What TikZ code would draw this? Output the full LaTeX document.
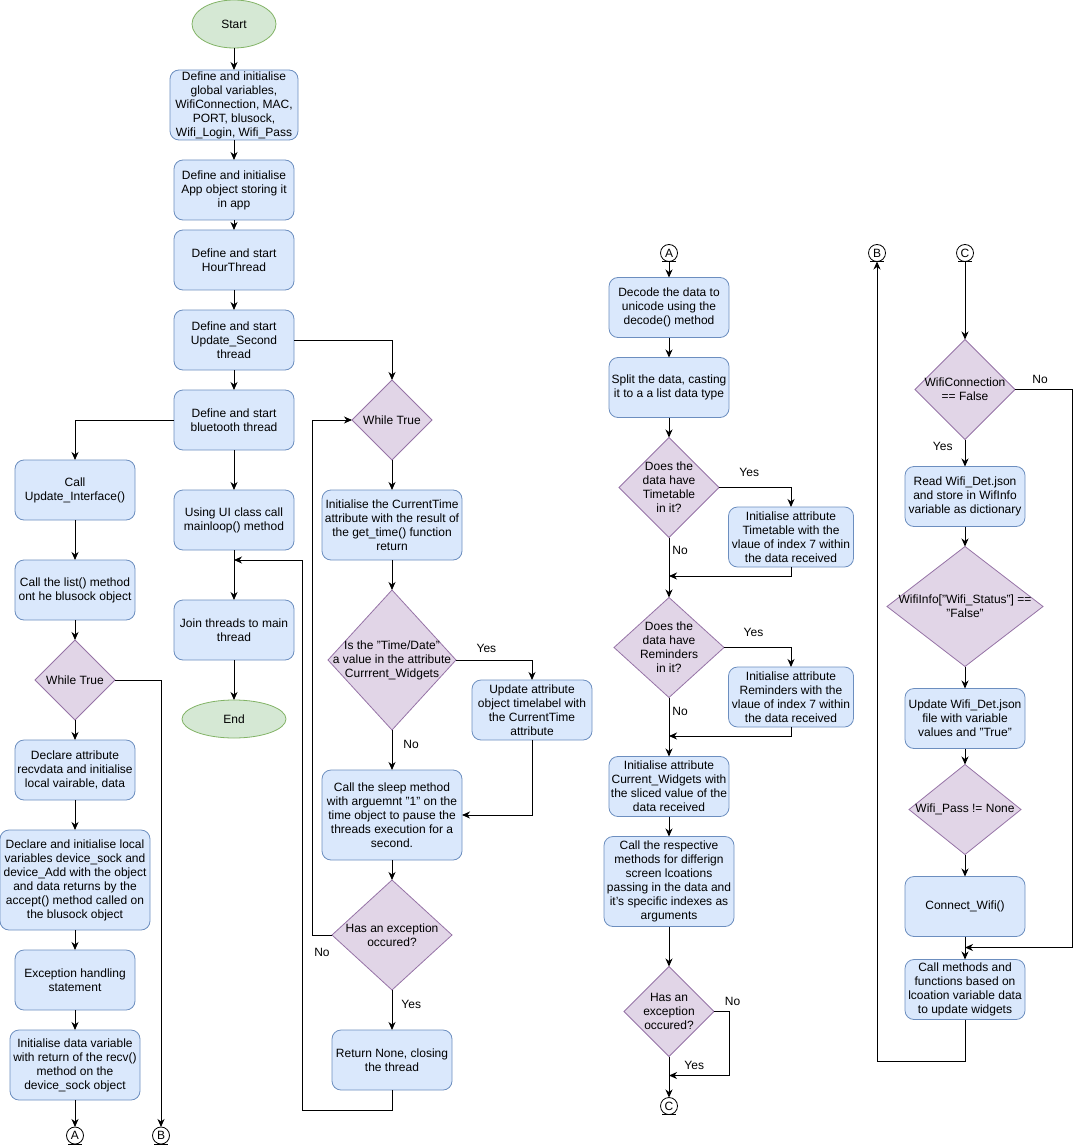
\documentclass[tikz,border=0pt]{standalone}
\usepackage{fontspec}
\setmainfont{Liberation Sans}
\usepackage{tikz}
\usetikzlibrary{arrows.meta, shapes.geometric, positioning}
\definecolor{procfill}{HTML}{DAE8FC}
\definecolor{procline}{HTML}{6C8EBF}
\definecolor{decfill}{HTML}{E1D5E7}
\definecolor{decline}{HTML}{9673A6}
\definecolor{termfill}{HTML}{D5E8D4}
\definecolor{termline}{HTML}{82B366}
\newcommand{\flowfont}{\fontsize{12pt}{14pt}\selectfont}

\begin{document}
\begin{tikzpicture}[
  x=1pt, y=-1pt,
  node distance=20pt,
  process/.style={rectangle, rounded corners=9pt, draw=procline, fill=procfill,
                  align=center, font=\flowfont, minimum width=120pt,
                  minimum height=60pt, inner xsep=2pt, inner ysep=0pt,
                  outer sep=0pt, line width=0.8pt},
  decision/.style 2 args={diamond, draw=decline, fill=decfill, inner sep=0pt,
                  outer sep=0pt, minimum width=#1, minimum height=#2, line width=0.8pt},
  dtext/.style={align=center, font=\flowfont, inner sep=0pt},
  terminal/.style={ellipse, draw=termline, fill=termfill, font=\flowfont,
                   outer sep=0pt, line width=0.8pt},
  offpage/.style={circle, draw, fill=white, inner sep=0pt, minimum size=17pt,
                  outer sep=0pt, font=\flowfont, line width=0.8pt},
  lbl/.style={font=\flowfont, inner sep=1pt},
  arrow/.style={-{Stealth[length=8pt, width=7pt, inset=2.5pt]}, line width=0.9pt},
]
\useasboundingbox (0,0) rectangle (1082,1147);

\node[terminal, minimum width=84pt, minimum height=48pt] (start) at (234,24) {Start};
\node[process, minimum width=128pt, minimum height=70pt, below=22pt of start] (glob)
  {Define and initialise\\global variables,\\WifiConnection, MAC,\\PORT, blusock,\\Wifi\_Login, Wifi\_Pass};
\node[process, below=20pt of glob] (app) {Define and initialise\\App object storing it\\in app};
\node[process, below=10pt of app] (hour) {Define and start\\HourThread};
\node[process, below=20pt of hour] (second) {Define and start\\Update\_Second\\thread};
\node[process, below=20pt of second] (blue) {Define and start\\bluetooth thread};
\node[process, below=40pt of blue] (mloop) {Using UI class call\\mainloop() method};
\node[process, below=50pt of mloop] (join) {Join threads to main\\thread};
\node[terminal, minimum width=104pt, minimum height=38pt, below=40pt of join] (end) {End};

\node[process] (upd) at (75,490) {Call\\Update\_Interface()};
\node[process, below=40pt of upd] (list) {Call the list() method\\ont he blusock object};
\node[decision={80pt}{80pt}, below=20pt of list,
      label={[dtext]center:While True}] (loop1) {};
\node[process, below=20pt of loop1] (recv) {Declare attribute\\recvdata and initialise\\local vairable, data};
\node[process, minimum width=150pt, minimum height=100pt, below=30pt of recv] (sock)
  {Declare and initialise local\\variables device\_sock and\\device\_Add with the object\\and data returns by the\\accept() method called on\\the blusock object};
\node[process, below=20pt of sock] (exch) {Exception handling\\statement};
\node[process, minimum width=130pt, minimum height=70pt, below=20pt of exch] (rdata)
  {Initialise data variable\\with return of the recv()\\method on the\\device\_sock object};
\node[offpage, below=27pt of rdata] (A1) {A};
\node[offpage, right=69pt of A1] (B1) {B};

\node[decision={80pt}{80pt}, label={[dtext]center:While True}] (loop2) at (392,420) {};
\node[process, minimum width=140pt, minimum height=70pt, below=30pt of loop2] (ctime)
  {Initialise the CurrentTime\\attribute with the result of\\the get\_time() function\\return};
\node[decision={128pt}{140pt}, below=30pt of ctime,
      label={[dtext]center:{Is the "Time/Date"\\a value in the attribute\\Currrent\_Widgets}}] (tdate) {};
\node[process, minimum width=140pt, minimum height=90pt, below=40pt of tdate] (sleep)
  {Call the sleep method\\with arguemnt "1" on the\\time object to pause the\\threads execution for a\\second.};
\node[decision={120pt}{110pt}, below=20pt of sleep,
      label={[dtext]center:{Has an exception\\occured?}}] (exc2) {};
\node[process, below=40pt of exc2] (ret) {Return None, closing\\the thread};
\node[process] (tlabel) at (532,710) {Update attribute\\object timelabel with\\the CurrentTime\\attribute};

\node[offpage] (A2) at (669,253) {A};
\node[process, below=16pt of A2] (decode) {Decode the data to\\unicode using the\\decode() method};
\node[process, below=20pt of decode] (split) {Split the data, casting\\it to a a list data type};
\node[decision={100pt}{100pt}, below=20pt of split,
      label={[dtext]center:{Does the\\data have\\Timetable\\in it?}}] (ttab) {};
\node[decision={110pt}{100pt}, below=60pt of ttab,
      label={[dtext]center:{Does the\\data have\\Reminders\\in it?}}] (remd) {};
\node[process, below=59pt of remd] (cwid) {Initialise attribute\\Current\_Widgets with\\the sliced value of the\\data received};
\node[process, minimum width=130pt, minimum height=90pt, below=20pt of cwid] (resp)
  {Call the respective\\methods for differign\\screen lcoations\\passing in the data and\\it's specific indexes as\\arguments};
\node[decision={90pt}{90pt}, below=40pt of resp,
      label={[dtext]center:{Has an\\exception\\occured?}}] (exc3) {};
\node[offpage, below=41pt of exc3] (C1) {C};
\node[process, minimum width=125pt] (ttset) at (791,537)
  {Initialise attribute\\Timetable with the\\vlaue of index 7 within\\the data received};
\node[process, minimum width=125pt] (remset) at (791,697)
  {Initialise attribute\\Reminders with the\\vlaue of index 7 within\\the data received};

\node[offpage] (B2) at (877,253) {B};
\node[offpage, right=71pt of B2] (C2) {C};
\node[decision={100pt}{100pt}, below=78pt of C2,
      label={[dtext]center:{WifiConnection\\== False}}] (wcon) {};
\node[process, below=27pt of wcon] (readw) {Read Wifi\_Det.json\\and store in WifInfo\\variable as dictionary};
\node[decision={156pt}{120pt}, below=20pt of readw,
      label={[dtext]center:{WifiInfo["Wifi\_Status"] ==\\"False"}}] (wstat) {};
\node[process, below=22pt of wstat] (updw) {Update Wifi\_Det.json\\file with variable\\values and "True"};
\node[decision={112pt}{90pt}, below=16pt of updw,
      label={[dtext]center:{Wifi\_Pass != None}}] (wpass) {};
\node[process, below=22pt of wpass] (connw) {Connect\_Wifi()};
\node[process, below=23pt of connw] (callw) {Call methods and\\functions based on\\lcoation variable data\\to update widgets};

\foreach \c in {A1,B1,A2,C1,B2,C2}
  \draw[line width=0.8pt] ([xshift=-7pt]\c.south) -- ([xshift=7pt]\c.south);

\coordinate[below=10pt of mloop] (jn);
\coordinate[below=9pt of ttset] (m1);
\coordinate[below=9pt of remset] (m2);
\coordinate[below=19pt of exc3] (m3);
\coordinate[below=11pt of connw] (m4);

\draw[arrow] (start) -- (glob);
\draw[arrow] (glob) -- (app);
\draw[arrow] (app) -- (hour);
\draw[arrow] (hour) -- (second);
\draw[arrow] (second) -- (blue);
\draw[arrow] (blue) -- (mloop);
\draw[arrow] (mloop) -- (join);
\draw[arrow] (join) -- (end);
\draw[arrow] (blue.west) -| (upd.north);
\draw[arrow] (second.east) -| (loop2.north);

\draw[arrow] (upd) -- (list);
\draw[arrow] (list) -- (loop1);
\draw[arrow] (loop1) -- (recv);
\draw[arrow] (recv) -- (sock);
\draw[arrow] (sock) -- (exch);
\draw[arrow] (exch) -- (rdata);
\draw[arrow] (rdata) -- (A1);
\draw[arrow] (loop1.east) -| (B1.north);

\draw[arrow] (loop2) -- (ctime);
\draw[arrow] (ctime) -- (tdate);
\draw[arrow] (tdate) -- node[lbl, pos=0.35, right=10pt] {No} (sleep);
\draw[arrow] (tdate.east) -| node[lbl, pos=0.2, above=6pt] {Yes} (tlabel.north);
\draw[arrow] (tlabel.south) |- (sleep.east);
\draw[arrow] (sleep) -- (exc2);
\draw[arrow] (exc2) -- node[lbl, pos=0.35, right=8pt] {Yes} (ret);
\draw[arrow] (exc2.west) -- node[lbl, below=12pt] {No} ++(-20,0) |- (loop2.west);
\draw[arrow] (ret.south) -- ++(0,20) -- ++(-90,0) |- (jn);

\draw[arrow] (A2) -- (decode);
\draw[arrow] (decode) -- (split);
\draw[arrow] (split) -- (ttab);
\draw[arrow] (ttab.east) -| node[lbl, pos=0.21, above=9pt] {Yes} (ttset.north);
\draw[arrow] (ttab) -- node[lbl, pos=0.22, right=2pt] {No} (remd);
\draw[arrow] (ttset.south) -- (m1) -- (ttab |- m1);
\draw[arrow] (remd.east) -| node[lbl, pos=0.22, above=9pt] {Yes} (remset.north);
\draw[arrow] (remd) -- node[lbl, pos=0.24, right=2pt] {No} (cwid);
\draw[arrow] (remset.south) -- (m2) -- (remd |- m2);
\draw[arrow] (cwid) -- (resp);
\draw[arrow] (resp) -- (exc3);
\draw[arrow] (exc3) -- node[lbl, pos=0.22, right=14pt] {Yes} (C1);
\draw[arrow] (exc3.east) -- node[lbl, above right=4pt and 2pt] {No} ++(15,0) |- (m3);

\draw[arrow] (C2) -- (wcon);
\draw[arrow] (wcon) -- node[lbl, pos=0.26, left=11pt] {Yes} (readw);
\draw[arrow] (wcon.east) -- node[lbl, pos=0.44, above=4pt] {No} ++(57,0) |- (m4);
\draw[arrow] (readw) -- (wstat);
\draw[arrow] (wstat) -- (updw);
\draw[arrow] (updw) -- (wpass);
\draw[arrow] (wpass) -- (connw);
\draw[arrow] (connw) -- (callw);
\draw[arrow] (callw.south) -- ++(0,42) -| (B2.south);
\end{tikzpicture}
\end{document}
